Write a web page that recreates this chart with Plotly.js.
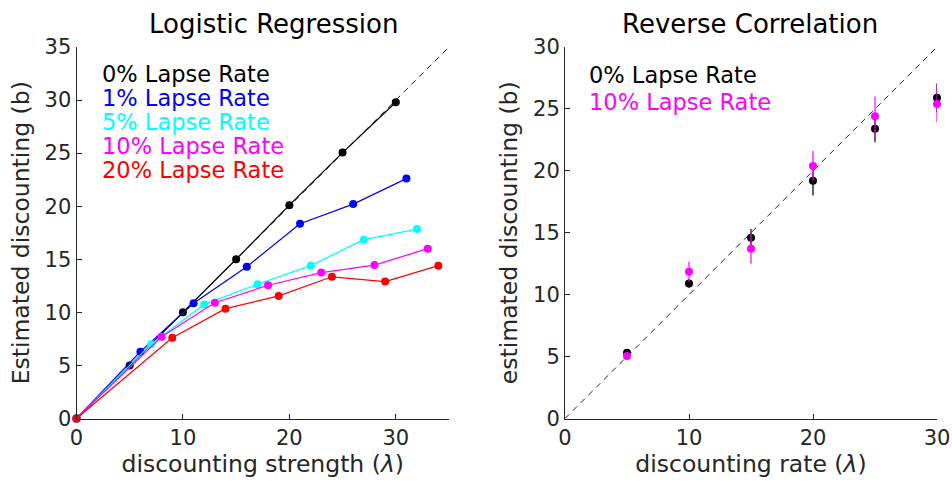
<!DOCTYPE html>
<html>
<head>
<meta charset="utf-8">
<script src="https://cdn.plot.ly/plotly-3.0.1.min.js"></script>
<style>html,body{margin:0;padding:0;background:#fff;}#chart{width:952px;height:486px;}</style>
</head>
<body>
<div id="chart"></div>
<script>
// ---- Left panel: Logistic Regression ----
const lambda0  = [0, 5, 10, 15, 20, 25, 30];
const est0     = [0, 5.0, 10.0, 15.0, 20.1, 25.05, 29.8];
const lambda1  = [0, 6, 11, 16, 21, 26, 31];
const est1     = [0, 6.3, 10.85, 14.3, 18.35, 20.2, 22.6];
const lambda5  = [0, 7, 12, 17, 22, 27, 32];
const est5     = [0, 7.0, 10.75, 12.65, 14.4, 16.85, 17.85];
const lambda10 = [0, 8, 13, 18, 23, 28, 33];
const est10    = [0, 7.7, 10.9, 12.55, 13.75, 14.45, 16.0];
const lambda20 = [0, 9, 14, 19, 24, 29, 34];
const est20    = [0, 7.6, 10.35, 11.55, 13.35, 12.9, 14.4];
const identityLeft = [0, 35];

const legendLeft = ['0% Lapse Rate', '1% Lapse Rate', '5% Lapse Rate', '10% Lapse Rate', '20% Lapse Rate'];
const colorsLeft = ['#000000', '#0000ff', '#00ffff', '#ff00ff', '#ff0000'];

// ---- Right panel: Reverse Correlation ----
const rate   = [5, 10, 15, 20, 25, 30];
const rc0    = [5.3, 10.9, 14.6, 19.2, 23.4, 25.9];
const rc0Err = [0.2, 0.35, 0.7, 1.2, 1.1, 1.15];
const rc10    = [5.05, 11.85, 13.7, 20.4, 24.4, 25.4];
const rc10Err = [0.2, 0.8, 1.2, 1.2, 1.6, 1.45];
const identityRight = [0, 30];
const legendRight = ['0% Lapse Rate', '10% Lapse Rate'];
const colorsRight = ['#000000', '#ff00ff'];

const FONT = 'DejaVu Sans, sans-serif';
const AX = '#262626';

const traces = [];
traces.push({x: identityLeft, y: identityLeft, mode: 'lines', xaxis: 'x', yaxis: 'y',
  line: {color: '#222', width: 1, dash: '6px,5px'}, hoverinfo: 'skip'});
const leftX = [lambda0, lambda1, lambda5, lambda10, lambda20];
const leftY = [est0, est1, est5, est10, est20];
for (let i = 0; i < leftX.length; i++) {
  traces.push({x: leftX[i], y: leftY[i], mode: 'lines+markers', xaxis: 'x', yaxis: 'y',
    name: legendLeft[i], line: {color: colorsLeft[i], width: 1.2}, cliponaxis: false,
    marker: {color: colorsLeft[i], size: 8}});
}
traces.push({x: identityRight, y: identityRight, mode: 'lines', xaxis: 'x2', yaxis: 'y2',
  line: {color: '#222', width: 1, dash: '6px,5px'}, hoverinfo: 'skip'});
traces.push({x: rate, y: rc0, mode: 'markers', xaxis: 'x2', yaxis: 'y2', name: legendRight[0],
  marker: {color: colorsRight[0], size: 8}, cliponaxis: false,
  error_y: {type: 'data', array: rc0Err, visible: true, width: 0, thickness: 2, color: 'rgba(0,0,0,0.6)'}});
traces.push({x: rate, y: rc10, mode: 'markers', xaxis: 'x2', yaxis: 'y2', name: legendRight[1],
  marker: {color: colorsRight[1], size: 8}, cliponaxis: false,
  error_y: {type: 'data', array: rc10Err, visible: true, width: 0, thickness: 2, color: 'rgba(255,0,255,0.6)'}});

const W = 952, H = 486;
const px = v => v / W;
const py = v => (H - v) / H;

function axisCommon(extra) {
  return Object.assign({
    showgrid: false, zeroline: false, showline: true, linecolor: AX, linewidth: 1,
    ticks: 'inside', ticklen: 5, tickcolor: AX, tickwidth: 1,
    tickfont: {family: FONT, size: 21, color: AX}, fixedrange: true
  }, extra);
}

const annotations = [];
annotations.push({text: 'Logistic Regression', xref: 'paper', yref: 'paper', x: px(273), y: py(24),
  xanchor: 'center', yanchor: 'middle', showarrow: false, font: {family: FONT, size: 26, color: '#000'}});
annotations.push({text: 'Reverse Correlation', xref: 'paper', yref: 'paper', x: px(750), y: py(24),
  xanchor: 'center', yanchor: 'middle', showarrow: false, font: {family: FONT, size: 26, color: '#000'}});
for (let i = 0; i < legendLeft.length; i++) {
  annotations.push({text: legendLeft[i], xref: 'paper', yref: 'paper', x: px(100), y: py(73.5 + i * 24),
    xanchor: 'left', yanchor: 'middle', showarrow: false, font: {family: FONT, size: 22.5, color: colorsLeft[i]}});
}
for (let i = 0; i < legendRight.length; i++) {
  annotations.push({text: legendRight[i], xref: 'paper', yref: 'paper', x: px(587), y: py(75 + i * 26.7),
    xanchor: 'left', yanchor: 'middle', showarrow: false, font: {family: FONT, size: 22.5, color: colorsRight[i]}});
}

const TF = {family: FONT, size: 23.5, color: AX};
const layout = {
  width: W, height: H, showlegend: false,
  margin: {l: 0, r: 0, t: 0, b: 0},
  paper_bgcolor: '#fff', plot_bgcolor: '#fff',
  xaxis: axisCommon({domain: [px(76.5), px(449)], range: [0, 35], tickvals: [0, 10, 20, 30],
    title: {text: 'discounting strength (<i>λ</i>)', font: TF, standoff: 5}}),
  yaxis: axisCommon({domain: [py(418.5), py(47)], range: [0, 35], tickvals: [0, 5, 10, 15, 20, 25, 30, 35],
    title: {text: 'Estimated discounting (b)', font: TF, standoff: 8}}),
  xaxis2: axisCommon({domain: [px(565), px(937)], range: [0, 30], tickvals: [0, 10, 20, 30], anchor: 'y2',
    title: {text: 'discounting rate (<i>λ</i>)', font: TF, standoff: 5}}),
  yaxis2: axisCommon({domain: [py(418.5), py(47)], range: [0, 30], tickvals: [0, 5, 10, 15, 20, 25, 30], anchor: 'x2',
    title: {text: 'estimated discounting (b)', font: TF, standoff: 8}}),
  annotations: annotations
};

Plotly.newPlot('chart', traces, layout, {staticPlot: true, displayModeBar: false});
</script>
</body>
</html>
